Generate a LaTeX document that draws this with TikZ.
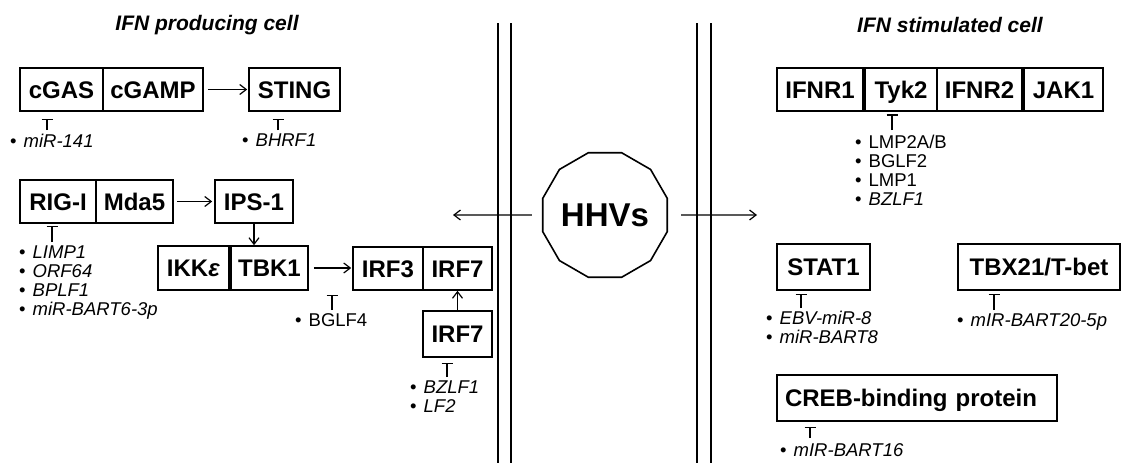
\documentclass[tikz,border=0pt]{standalone}
\usepackage{fontspec}
\setmainfont{Liberation Sans}
\usetikzlibrary{arrows.meta,shapes.geometric,calc}
\newcommand{\blt}{\textbullet\hspace{7pt}}
\begin{document}
\begin{tikzpicture}[x=1pt,y=-1pt,
 bx/.style={draw, line width=1.6pt, inner sep=0pt, minimum height=43pt, text height=17pt, text depth=0pt, font=\bfseries\fontsize{24}{26}\selectfont},
 lbl/.style={inner sep=0pt, align=left, anchor=north west, font=\fontsize{18.5}{19}\selectfont},
 arr/.style={line width=1.2pt, -{Straight Barb[length=6.5pt,width=10pt]}},
 inh/.style={line width=1.2pt, -{Bar[width=11pt,line width=1.2pt]}},
 mem/.style={line width=1.2pt},
 ttl/.style={font=\bfseries\itshape\fontsize{21}{23}\selectfont}]
\useasboundingbox (0,0) rectangle (1122,463);

% titles
\node[ttl] (t1) at (207,25) {IFN producing cell};
\node[ttl] (t2) at (950,25) {IFN stimulated cell};

% membranes
\draw[mem] (498,23) -- (498,463);
\draw[mem] (511,23) -- (511,463);
\draw[mem] (697,23) -- (697,463);
\draw[mem] (711,23) -- (711,463);

% left boxes
\node[bx, minimum width=83pt] (cgas) at (61.5,89.5) {cGAS};
\node[bx, minimum width=100pt] (cgamp) at (153,89.5) {cGAMP};
\node[bx, minimum width=91pt] (sting) at (294.5,89.5) {STING};
\node[bx, minimum width=76pt] (rigi) at (58,201.5) {RIG-I};
\node[bx, minimum width=77pt] (mda5) at (134.5,201.5) {Mda5};
\node[bx, minimum width=78pt] (ips) at (254,201.5) {IPS-1};
\node[bx, minimum width=71pt, minimum height=44pt] (ikk) at (193.5,268) {IKK\textit{ε}};
\node[bx, minimum width=77pt, minimum height=44pt] (tbk1) at (269.5,268) {TBK1};
\node[bx, minimum width=70pt] (irf3) at (388,268.5) {IRF3};
\node[bx, minimum width=69pt] (irf7a) at (457.5,268.5) {IRF7};
\node[bx, minimum width=69pt, minimum height=46pt] (irf7b) at (457.5,334) {IRF7};

% right boxes
\node[bx, minimum width=86pt] (ifnr1) at (820,89.5) {IFNR1};
\node[bx, minimum width=72pt] (tyk2) at (901,89.5) {Tyk2};
\node[bx, minimum width=85pt] (ifnr2) at (979.5,89.5) {IFNR2};
\node[bx, minimum width=79pt] (jak1) at (1063.5,89.5) {JAK1};
\node[bx, minimum width=93pt, minimum height=46pt] (stat1) at (823.5,267) {STAT1};
\node[bx, minimum width=162pt, minimum height=46pt] (tbx) at (1039,267) {TBX21/T-bet};
\node[bx, minimum width=280pt, minimum height=46pt, text width=264pt, align=left, inner xsep=8pt] (creb) at (917,398) {CREB-binding protein};

% HHVs
\node[draw, line width=1.6pt, regular polygon, regular polygon sides=12, minimum size=108pt, inner sep=0pt, text height=23pt, text depth=0pt, font=\bfseries\fontsize{33}{35}\selectfont] (hhv) at (605,215) {HHVs};
\coordinate (lend) at (453,215);
\coordinate (rend) at (757,215);
\draw[arr, shorten <=10pt] (hhv.west) -- (lend);
\draw[arr, shorten <=13pt] (hhv.east) -- (rend);

% activating arrows
\draw[arr, shorten <=4pt, shorten >=1pt] (cgamp) -- (sting);
\draw[arr, shorten <=3pt, shorten >=2pt] (mda5) -- (ips);
\draw[arr] (ips.south) -- (ips.south |- tbk1.north);
\draw[arr, shorten <=5pt, shorten >=1pt] (tbk1.east) -- (tbk1.east -| irf3.west);
\draw[arr] (irf7b) -- (irf7a);

% inhibitions
\coordinate (i1) at (47,130);
\draw[inh] (i1) -- ($(i1 |- cgas.south)+(0,7)$);
\coordinate (i2) at (278,130);
\draw[inh] (i2) -- ($(i2 |- sting.south)+(0,7)$);
\coordinate (i3) at (52,242);
\draw[inh] (i3) -- ($(i3 |- rigi.south)+(0,2)$);
\coordinate (i4) at (332,310);
\coordinate (i4b) at (332,295);
\draw[inh] (i4) -- (i4b);
\coordinate (i5) at (447,377);
\draw[inh] (i5) -- ($(i5 |- irf7b.south)+(0,5)$);
\coordinate (i6) at (892,130);
\draw[inh] (i6) -- ($(i6 |- tyk2.south)+(0,2.5)$);
\coordinate (i7) at (801,308);
\draw[inh] (i7) -- ($(i7 |- stat1.south)+(0,3)$);
\coordinate (i8) at (994,310);
\draw[inh] (i8) -- ($(i8 |- tbx.south)+(0,3)$);
\coordinate (i9) at (810,438);
\draw[inh] (i9) -- ($(i9 |- creb.south)+(0,5)$);

% labels
\node[lbl] (l1) at (10,133.5) {\blt\textit{miR-141}};
\node[lbl] (l2) at (242,133.5) {\blt\textit{BHRF1}};
\node[lbl] (l3) at (19,245.5) {\blt\textit{LIMP1}\\\blt\textit{ORF64}\\\blt\textit{BPLF1}\\\blt\textit{miR-BART6-3p}};
\node[lbl] (l4) at (295,313.5) {\blt BGLF4};
\node[lbl] (l5) at (410,380.5) {\blt\textit{BZLF1}\\\blt\textit{LF2}};
\node[lbl] (l6) at (855,134.5) {\blt LMP2A/B\\\blt BGLF2\\\blt LMP1\\\blt\textit{BZLF1}};
\node[lbl] (l7) at (766,310.5) {\blt\textit{EBV-miR-8}\\\blt\textit{miR-BART8}};
\node[lbl] (l8) at (957,313.5) {\blt\textit{mIR-BART20-5p}};
\node[lbl] (l9) at (780,443.5) {\blt\textit{mIR-BART16}};
\end{tikzpicture}
\end{document}
